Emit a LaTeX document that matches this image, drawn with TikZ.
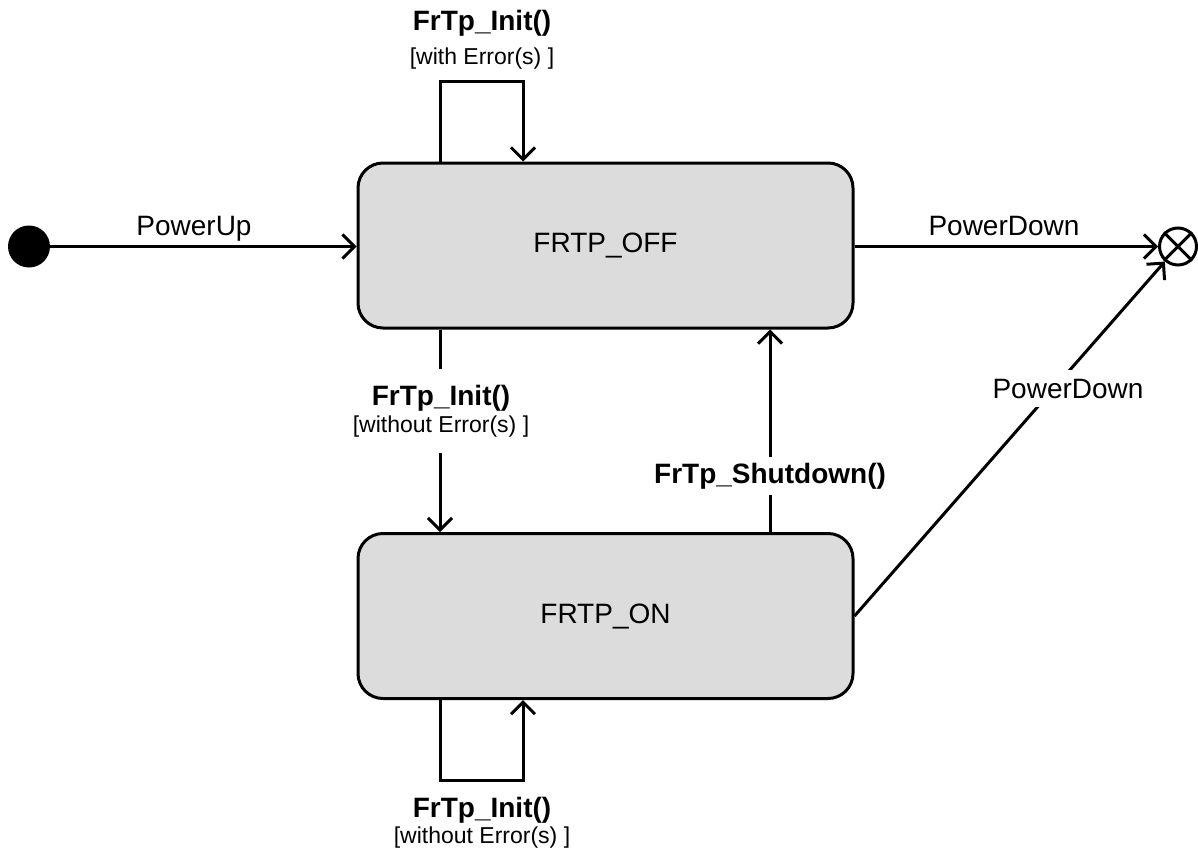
\documentclass[tikz,border=0pt]{standalone}
\usepackage{fontspec}
\setmainfont{Liberation Sans}
\usetikzlibrary{arrows.meta}
\definecolor{stategray}{RGB}{220,220,220}
\begin{document}
\begin{tikzpicture}[x=1pt,y=-1pt,
  state/.style={draw, line width=3pt, fill=stategray, rounded corners=25pt,
    minimum width=495pt, minimum height=165pt, inner sep=0pt,
    font=\fontsize{28}{32}\selectfont},
  trans/.style={line width=3pt, -{Straight Barb[length=12pt,width=24pt,line width=3pt]}},
  lbl/.style={font=\fontsize{28}{32}\selectfont, inner sep=0pt},
  blbl/.style={font=\bfseries\fontsize{28}{32}\selectfont, inner sep=0pt},
  glbl/.style={font=\fontsize{23}{27}\selectfont, inner sep=0pt}
]
\useasboundingbox (0,0) rectangle (1198,851);

\node[state] (off) at (605.5,245.5) {FRTP\_OFF};
\node[state] (on) at (605.5,616) {FRTP\_ON};
\node[circle, fill=black, minimum size=42pt, inner sep=0pt] (init) at (29,246.5) {};
\node[circle, draw, line width=3pt, minimum size=37pt, inner sep=0pt] (final) at (1178,246.5) {};
\draw[line width=3pt] (final.north west) -- (final.south east)
                      (final.north east) -- (final.south west);

% PowerUp
\draw[trans] (init.east) -- (init -| off.west);
\node[lbl, anchor=base] (lpu) at (194,235) {PowerUp};

% PowerDown from OFF
\draw[trans] (final -| off.east) -- (final);
\node[lbl, anchor=base] (lpd1) at (1004,235) {PowerDown};

% PowerDown from ON
\draw[trans] (on.east) -- (final);
\node[lbl, anchor=base, fill=white, inner xsep=2pt, inner ysep=9pt] (lpd2) at (1068,398) {PowerDown};

% self loop on OFF
\draw[trans] ([xshift=-165.5pt]off.north) -- ++(0,-80) -| ([xshift=-82.5pt]off.north);
\node[blbl, anchor=base] (ltop1) at (482,31) {FrTp\_Init()};
\node[glbl, anchor=base] (ltop2) at (482,64) {[with Error(s) ]};

% OFF -> ON
\draw[trans] ([xshift=-165.5pt]off.south) -- ([xshift=-165.5pt]on.north);
\node[glbl, fill=white, align=center, anchor=north, minimum height=84pt, inner xsep=2pt] (lmid) at (441,369)
  {\textbf{\fontsize{28}{27}\selectfont FrTp\_Init()}\\ \relax[without Error(s) ]};

% ON -> OFF
\draw[trans] ([xshift=164.5pt]on.north) -- ([xshift=164.5pt]off.south);
\node[blbl, anchor=base, fill=white, inner xsep=2pt, inner ysep=6pt] (lsd) at (770,483) {FrTp\_Shutdown()};

% self loop on ON
\draw[trans] ([xshift=-165.5pt]on.south) -- ++(0,80) -| ([xshift=-82.5pt]on.south);
\node[blbl, anchor=base] (lbot1) at (482,817) {FrTp\_Init()};
\node[glbl, anchor=base] (lbot2) at (482,843) {[without Error(s) ]};
\end{tikzpicture}
\end{document}
